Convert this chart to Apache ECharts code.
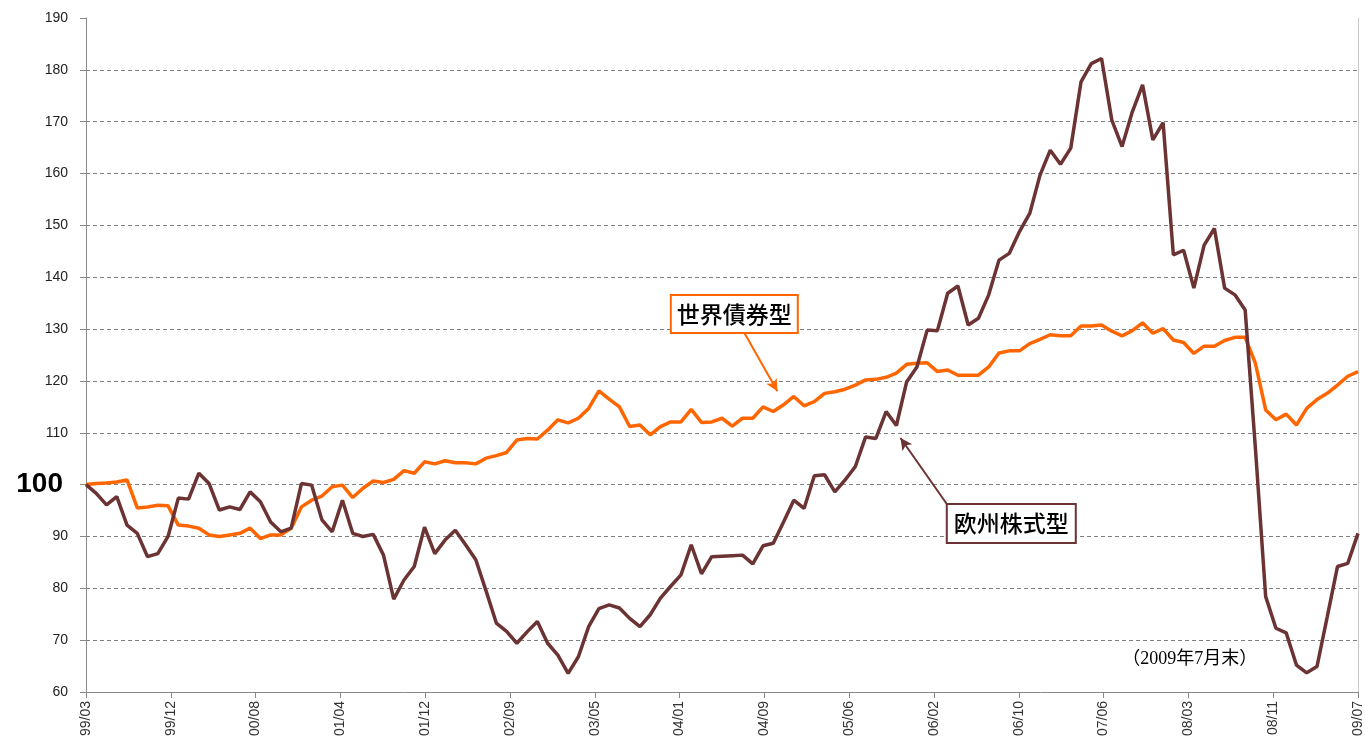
<!DOCTYPE html>
<html>
<head>
<meta charset="utf-8">
<script src="https://cdn.jsdelivr.net/npm/echarts@6/dist/echarts.min.js"></script>
<style>
html,body{margin:0;padding:0;background:#fff;}
#c{width:1365px;height:747px;}
</style>
</head>
<body>
<div id="c"></div>
<script>
// x-axis tick labels (evenly spaced ticks)
const tickLabels = ['99/03','99/12','00/08','01/04','01/12','02/09','03/05','04/01','04/09','05/06','06/02','06/10','07/06','08/03','08/11','09/07'];

// 欧州株式型 (monthly, 1999/03 - 2009/07)
const stock = [
100.0,98.3,96.1,97.7,92.2,90.6,86.1,86.7,90.0,97.4,
97.2,102.2,100.2,95.1,95.7,95.2,98.6,96.7,92.8,90.9,
91.6,100.2,99.9,93.2,90.9,97.0,90.6,90.0,90.4,86.4,
77.9,81.6,84.2,91.8,86.7,89.3,91.2,88.4,85.5,79.5,
73.3,71.7,69.4,71.6,73.6,69.4,67.1,63.6,66.8,72.6,
76.1,76.8,76.2,74.2,72.6,74.9,78.1,80.4,82.6,88.4,
82.8,86.1,86.2,86.3,86.4,84.7,88.2,88.7,92.8,97.0,
95.4,101.7,101.9,98.6,100.9,103.5,109.2,108.9,114.1,111.4,
119.8,122.7,129.8,129.7,136.9,138.3,130.8,132.1,136.6,143.3,
144.6,148.8,152.3,159.7,164.5,161.8,164.9,177.7,181.2,182.2,
170.3,165.2,171.9,177.1,166.5,169.8,144.3,145.2,137.9,146.2,
149.4,137.9,136.6,133.7,107.0,78.4,72.3,71.4,65.2,63.7,
64.9,74.5,84.2,84.8,90.6
];

// 世界債券型 (monthly, 1999/03 - 2009/07)
const bond = [
100.0,100.2,100.3,100.5,100.9,95.5,95.7,96.0,95.9,92.2,
92.0,91.6,90.3,90.0,90.3,90.6,91.6,89.6,90.3,90.3,
91.6,95.7,97.0,97.8,99.6,99.9,97.5,99.3,100.7,100.4,
101.0,102.7,102.2,104.4,104.0,104.6,104.2,104.2,104.0,105.1,
105.6,106.2,108.6,108.9,108.8,110.5,112.5,111.9,112.8,114.7,
118.1,116.5,115.0,111.2,111.5,109.6,111.2,112.1,112.1,114.5,
112.0,112.1,112.8,111.3,112.8,112.8,115.0,114.1,115.4,117.0,
115.2,116.0,117.6,117.9,118.4,119.2,120.2,120.3,120.7,121.5,
123.2,123.4,123.5,121.8,122.1,121.1,121.1,121.1,122.7,125.4,
125.8,125.8,127.2,128.0,128.9,128.7,128.7,130.6,130.6,130.8,
129.6,128.7,129.7,131.2,129.2,130.1,127.9,127.4,125.3,126.7,
126.7,127.8,128.4,128.4,123.4,114.4,112.5,113.6,111.5,114.7,
116.4,117.6,119.2,120.9,121.8
];

const yTicks = [60,70,80,90,100,110,120,130,140,150,160,170,180,190];

// x position (in tick units) of month index i
const toX = i => i * (tickLabels.length - 1) / (stock.length - 1);
const pts = arr => arr.map((v, i) => [toX(i), v]);

const orange = '#ff6600';
const brown = '#6b3333';
const jp = "'Noto Sans CJK JP','Noto Sans CJK SC',sans-serif";

const chart = echarts.init(document.getElementById('c'));
chart.setOption({
  animation: false,
  backgroundColor: '#ffffff',
  grid: { left: 86, right: 3, top: 18, bottom: 55, containLabel: false },
  xAxis: {
    type: 'value', min: 0, max: tickLabels.length - 1, interval: 1,
    axisLine: { show: true, lineStyle: { color: '#888', width: 1 } },
    axisTick: { show: true, length: 6, lineStyle: { color: '#888' } },
    splitLine: { show: false },
    axisLabel: {
      rotate: 90, margin: 9, fontSize: 14, color: '#333',
      fontFamily: "'Liberation Sans',Arial,sans-serif",
      formatter: v => tickLabels[Math.round(v)] || ''
    }
  },
  yAxis: [{
    type: 'value', min: 60, max: 190, interval: 10,
    axisLine: { show: true, lineStyle: { color: '#888', width: 1 } },
    axisTick: { show: true, length: 6, lineStyle: { color: '#888' } },
    splitLine: { show: true, lineStyle: { type: [4, 3], width: 1,
      color: yTicks.map((t, k) => (k === 0 || k === yTicks.length - 1) ? 'rgba(0,0,0,0)' : '#808080') } },
    axisLabel: {
      margin: 18, fontSize: 14, color: '#222',
      fontFamily: "'Liberation Sans',Arial,sans-serif",
      formatter: v => v === 100 ? '{big|100}' : String(v),
      rich: { big: { fontSize: 28, fontWeight: 'bold', color: '#000',
        fontFamily: "'Liberation Sans',Arial,sans-serif", padding: [0, 5, 0, 0] } }
    }
  }, {
    type: 'value', min: 60, max: 190, position: 'right',
    axisLine: { show: true, lineStyle: { color: '#c8c8c8', width: 1 } },
    axisTick: { show: false }, axisLabel: { show: false }, splitLine: { show: false }
  }],
  series: [
    {
      name: '世界債券型', type: 'line', data: pts(bond), showSymbol: false, symbol: 'none',
      lineStyle: { color: orange, width: 3.5 }, itemStyle: { color: orange },
      z: 2,
      markLine: {
        silent: true, animation: false, symbol: ['none', 'arrow'], symbolSize: [9, 12],
        label: { show: false },
        lineStyle: { color: orange, width: 2, type: 'solid' },
        data: [[ { coord: [toX(64.2), 129.2] }, { coord: [toX(67.4), 118.0] } ]]
      },
      markPoint: {
        silent: true, animation: false, symbol: 'rect', symbolSize: 1,
        itemStyle: { color: 'rgba(0,0,0,0)' },
        label: {
          show: true, position: 'inside', formatter: '世界債券型',
          fontSize: 23, lineHeight: 24, color: '#000', fontFamily: jp, fontWeight: 500,
          backgroundColor: '#fff', borderColor: orange, borderWidth: 2,
          padding: [6, 5, 6, 5]
        },
        data: [{ coord: [toX(63.2), 132.9] }]
      }
    },
    {
      name: '欧州株式型', type: 'line', data: pts(stock), showSymbol: false, symbol: 'none',
      lineStyle: { color: brown, width: 3.5 }, itemStyle: { color: brown },
      z: 3,
      markLine: {
        silent: true, animation: false, symbol: ['none', 'arrow'], symbolSize: [9, 12],
        label: { show: false },
        lineStyle: { color: brown, width: 2, type: 'solid' },
        data: [[ { coord: [toX(83.9), 96.3] }, { coord: [toX(79.4), 109.0] } ]]
      },
      markPoint: {
        silent: true, animation: false, symbol: 'rect', symbolSize: 1,
        itemStyle: { color: 'rgba(0,0,0,0)' },
        label: {
          show: true, position: 'inside', formatter: '欧州株式型',
          fontSize: 23, lineHeight: 24, color: '#000', fontFamily: jp, fontWeight: 500,
          backgroundColor: '#fff', borderColor: brown, borderWidth: 2,
          padding: [7, 6, 6, 6]
        },
        data: [
          { coord: [toX(90.2), 92.5] },
          { coord: [toX(107.6), 66.3], label: { formatter: '（2009年7月末）', fontSize: 18, lineHeight: 19,
            fontFamily: "'Liberation Serif','Noto Sans CJK JP',serif", backgroundColor: 'rgba(0,0,0,0)',
            borderWidth: 0, padding: 0, color: '#000', fontWeight: 'normal' } }
        ]
      }
    }
  ]
});
</script>
</body>
</html>
